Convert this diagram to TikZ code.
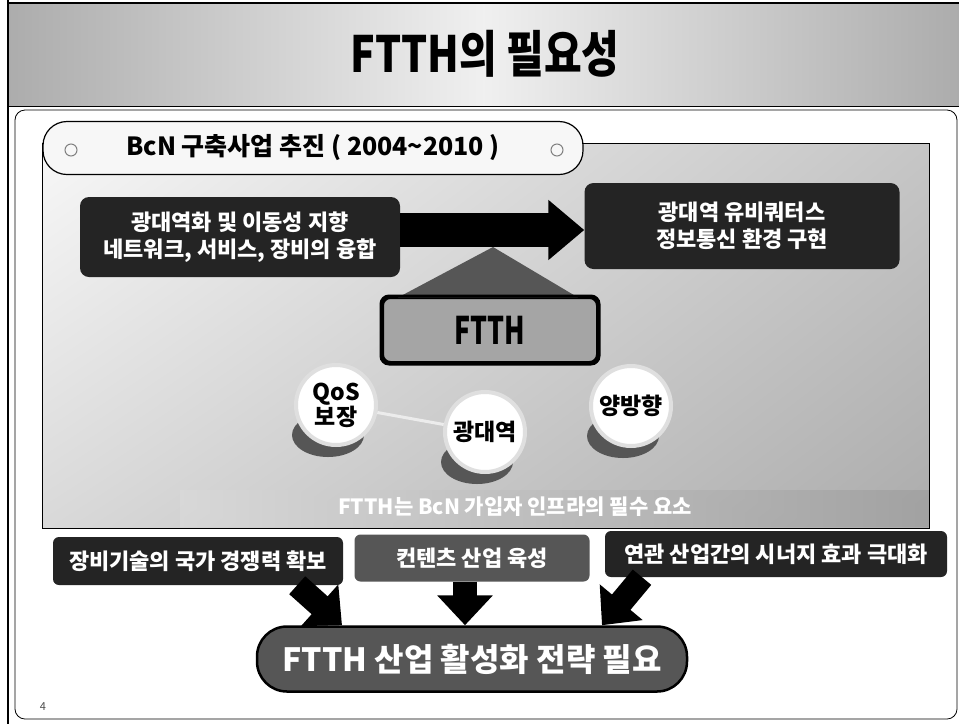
\documentclass[tikz,border=0pt]{standalone}
\usepackage{fontspec}
\setmainfont{Noto Sans CJK KR}
\newfontfamily\narrowfont{Noto Sans CJK KR}[FakeStretch=0.82]
\newfontfamily\condfont{Noto Sans CJK KR}[FakeStretch=0.7]
\usetikzlibrary{positioning,arrows.meta,shadings}
\definecolor{myblack}{RGB}{36,36,36}
\definecolor{mydarkgrey}{RGB}{86,86,86}
\definecolor{mymidgrey}{RGB}{165,165,165}
\definecolor{mylightgrey}{RGB}{214,214,214}
\newcommand\bubble[3]{
  \fill[mydarkgrey] ([shift={(-8,30)}]#2) ellipse [x radius=36pt, y radius=22pt];
  \node[bubble] (#1) at (#2) {#3};
}

\begin{document}
\begin{tikzpicture}[x=1pt,y=-1pt,
    darkbox/.style={fill=#1, rounded corners=9pt, text=white, align=center, inner sep=0pt,
                    font={\bfseries\fontsize{22}{27}\selectfont}},
    darkbox/.default=myblack,
    bubble/.style={circle, fill=white, draw=white!75!gray, line width=4pt, minimum size=80pt,
                   inner sep=0pt, align=center, font={\bfseries\fontsize{23}{19}\selectfont}},
    bigarrow/.style={draw=black, line width=34pt, -{Triangle[length=36pt,width=58pt]}},
    downarrow/.style={draw=black, line width=24pt, -{Triangle[length=30pt,width=54pt]}},
    pillbox/.style={draw=black, line width=1.2pt, rounded corners=24pt, fill=white!94!gray,
                    minimum width=540pt, minimum height=53pt, font={\bfseries\fontsize{25}{25}\selectfont}},]

    \useasboundingbox (0,0) rectangle (959,724);
    \fill[white] (0,0) rectangle (959,724);

    % title band
    \shade[left color=gray!65, right color=gray!65, middle color=gray!12] (8,3) rectangle (959,106);
    \draw[line width=2pt] (8,0) -- (8,724);
    \draw[line width=1.5pt] (8,3) -- (959,3);
    \draw[line width=1pt] (8,106) -- (959,106);
    \draw[rounded corners=10pt, line width=0.8pt] (15,110) rectangle (957,719);
    \node[font={\narrowfont\bfseries\fontsize{50}{50}\selectfont}] (title) at (485,54) {FTTH의 필요성};

    % picture area
    \shade[upper left=gray!6, upper right=gray!45, lower left=gray!30, lower right=gray!65] (42,143) rectangle (929,528);
    \shade[left color=gray!30, right color=gray!75, opacity=0.8] (180,490) rectangle (929,526);
    \draw[line width=0.8pt] (42,143) rectangle (929,528);

    \node[pillbox] (banner) at (313,148) {BcN 구축사업 추진 ( 2004\textasciitilde 2010 )};
    \draw[gray, line width=1pt] (71,150) circle (6pt) (557,150) circle (6pt);

    \node[darkbox, minimum width=320pt, minimum height=80pt] (lbox) at (240,237)
        {광대역화 및 이동성 지향\\네트워크, 서비스, 장비의 융합};
    \node[darkbox, minimum width=315pt, minimum height=86pt] (rbox) at (742,226)
        {광대역 유비쿼터스\\정보통신 환경 구현};

    \node[draw=black, line width=3pt, rounded corners=8pt, fill=mymidgrey, minimum width=215pt, minimum height=65pt,
          font={\condfont\bfseries\fontsize{38}{38}\selectfont}] (ftth) at (490,330) {FTTH};
    \fill[mydarkgrey] ([xshift=17pt,yshift=-1.5pt]ftth.north west) -- (493,247)
        -- ([xshift=-21pt,yshift=-1.5pt]ftth.north east) -- cycle;
    \draw[draw=black, line width=3pt, rounded corners=8pt] (ftth.north west) rectangle (ftth.south east);

    \path ([yshift=7pt]lbox.east) coordinate (arrowstart);
    \draw[bigarrow] (arrowstart) -- (arrowstart -| rbox.west);

    \bubble{qos}{336,405}{QoS\\보장}
    \bubble{broad}{485,432}{광대역}
    \bubble{duplex}{631,406}{양방향}
    \draw[white!85!gray, line width=3pt] (qos) -- (broad);

    \node[text=white, font={\bfseries\fontsize{21}{21}\selectfont}] (caption) at (515,507)
        {FTTH는 BcN 가입자 인프라의 필수 요소};

    % needs
    \node[darkbox, rounded corners=6pt, minimum width=290pt, minimum height=48pt] (need1) at (198,561)
        {장비기술의 국가 경쟁력 확보};
    \node[darkbox=mydarkgrey, rounded corners=6pt, minimum width=235pt, minimum height=47pt] (need2) at (472,558)
        {컨텐츠 산업 육성};
    \node[darkbox, rounded corners=6pt, minimum width=342pt, minimum height=46pt] (need3) at (776,554)
        {연관 산업간의 시너지 효과 극대화};

    \node[draw=black, line width=2.5pt, fill=mydarkgrey, rounded corners=30pt, minimum width=430pt, minimum height=65pt,
          text=white, font={\bfseries\fontsize{32}{32}\selectfont}] (goal) at (472,659) {FTTH 산업 활성화 전략 필요};

    \draw[downarrow] ([xshift=-46pt]need1.south east) -- ([xshift=-130pt]goal.north);
    \draw[downarrow] ([xshift=-7pt]need2.south) -- ([xshift=-7pt]need2.south |- goal.north);
    \draw[downarrow] ([xshift=-134pt]need3.south) -- ([xshift=130pt]goal.north);

    \node[text=gray!60!black, font={\itshape\fontsize{11}{11}\selectfont}] (pagenum) at (43,707) {4};

\end{tikzpicture}
\end{document}
